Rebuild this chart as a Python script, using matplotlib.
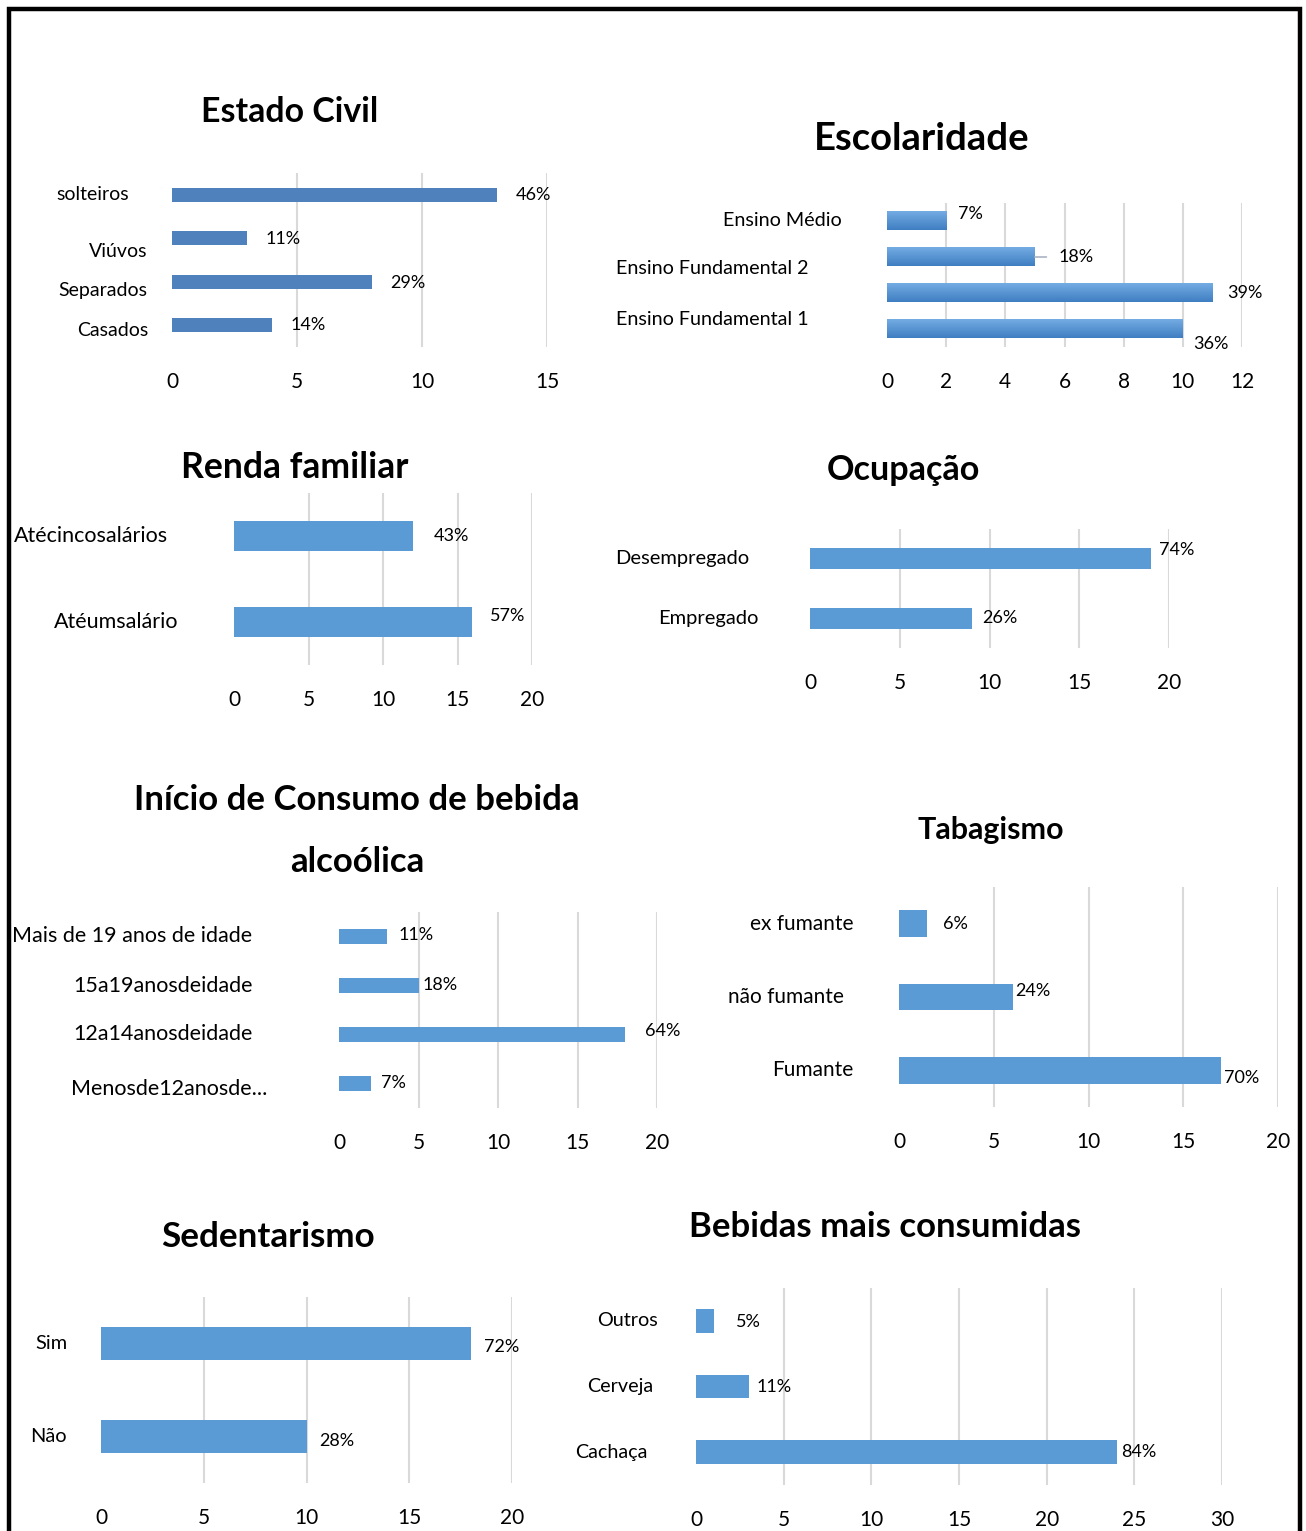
import matplotlib.pyplot as plt
import numpy as np
from matplotlib.patches import Rectangle
from matplotlib.colors import LinearSegmentedColormap
from matplotlib.transforms import offset_copy

plt.rcParams['font.family'] = ['Lato', 'DejaVu Sans']

W, H = 1306, 1531
PX = 72 / 100          # points per pixel at dpi 100

# ======================== DATA (top bar first) ========================
civil_cats = ['solteiros', 'Viúvos', 'Separados', 'Casados']
civil_vals = [13, 3, 8, 4]
civil_pct = ['46%', '11%', '29%', '14%']

escol_cats = ['Ensino Médio', 'Ensino Fundamental 2', 'Ensino Fundamental 1']
escol_vals = [2, 5, 11, 10]
escol_pct = ['7%', '18%', '39%', '36%']

renda_cats = ['Atécincosalários', 'Atéumsalário']
renda_vals = [12, 16]
renda_pct = ['43%', '57%']

ocup_cats = ['Desempregado', 'Empregado']
ocup_vals = [19, 9]
ocup_pct = ['74%', '26%']

inicio_cats = ['Mais de 19 anos de idade', '15a19anosdeidade', '12a14anosdeidade', 'Menosde12anosde...']
inicio_vals = [3, 5, 18, 2]
inicio_pct = ['11%', '18%', '64%', '7%']

tabag_cats = ['ex fumante', 'não fumante', 'Fumante']
tabag_vals = [1.5, 6, 17]
tabag_pct = ['6%', '24%', '70%']

sedent_cats = ['Sim', 'Não']
sedent_vals = [18, 10]
sedent_pct = ['72%', '28%']

bebidas_cats = ['Outros', 'Cerveja', 'Cachaça']
bebidas_vals = [1, 3, 24]
bebidas_pct = ['5%', '11%', '84%']

BLUE = '#5b9bd5'
GRID = '#d9d9d9'
VAL_SIZE = 13
TICK_SIZE = 15

fig = plt.figure(figsize=(W / 100, H / 100), dpi=100)


def panel(box, cats, vals, pct, xmax, xstep, color, bar_h, cat_size,
          cat_pads, offsets, cat_pos=None):
    x0, y0, x1, y1 = box
    ax = fig.add_axes([x0 / W, 1 - y1 / H, (x1 - x0) / W, (y1 - y0) / H])
    y = np.arange(len(vals))
    bars = ax.barh(y, vals, height=bar_h, color=color, zorder=2)
    ax.set_xlim(0, xmax)
    ax.set_ylim(len(vals) - 0.5, -0.5)
    ax.set_xticks(np.arange(0, xmax + 0.1, xstep))
    ax.set_yticks([])
    ax.grid(axis='x', color=GRID, lw=1.5, zorder=0)
    ax.set_axisbelow(True)
    ax.get_xgridlines()[0].set_visible(False)   # no line at zero
    for s in ax.spines.values():
        s.set_visible(False)
    ax.tick_params(axis='x', length=0, labelsize=TICK_SIZE, pad=18)

    # category labels, right aligned left of the plot area
    if cat_pos is None:
        cat_pos = y
    if np.isscalar(cat_pads):
        cat_pads = [cat_pads] * len(cats)
    for c, p, pad in zip(cats, cat_pos, cat_pads):
        tr = offset_copy(ax.get_yaxis_transform(), fig=fig, x=-pad, units='dots')
        ax.text(0, p, c, transform=tr, ha='right', va='center', fontsize=cat_size)

    texts = []
    for yi, v, t, (dx, dy) in zip(y, vals, pct, offsets):
        texts.append(ax.annotate(t, xy=(v, yi), xytext=(dx * PX, -dy * PX),
                                 textcoords='offset points', ha='left',
                                 va='center', fontsize=VAL_SIZE,
                                 annotation_clip=False))
    return ax, bars, texts


def title(x, y_base, s, size):
    fig.text(x / W, 1 - y_base / H, s, ha='center', va='baseline',
             fontsize=size, fontweight='bold')


# ---- Estado Civil
panel((172, 173, 547, 347), civil_cats, civil_vals, civil_pct, 15, 5, '#4f81bd',
      0.32, 14, [43, 25, 25, 24], [(19, 0), (19, 1), (18, 1), (19, 0)],
      cat_pos=[0, 1.31, 2.19, 3.11])
title(290, 122, 'Estado Civil', 24.4)

# ---- Escolaridade (gradient bars)
ax, bars, texts = panel((887, 203, 1242, 347), escol_cats, escol_vals, escol_pct,
                        12, 2, '#5b9bd5', 0.52, 14.2, [45, 78, 78],
                        [(12, -7), (24, 0), (15, 0), (10, 15)],
                        cat_pos=[0, 1.31, 2.74])
cmap = LinearSegmentedColormap.from_list('g', ['#74ace3', '#3f7ec2'])
grad = np.linspace(0, 1, 64).reshape(-1, 1)
for b in bars:
    bx, by, bw, bh = b.get_x(), b.get_y(), b.get_width(), b.get_height()
    ax.imshow(grad, extent=[bx, bx + bw, by + bh, by], aspect='auto',
              cmap=cmap, zorder=3)
    b.set_visible(False)
ax.set_xlim(0, 12)
ax.set_ylim(3.5, -0.5)
texts[3].set_clip_on(True)
texts[1].remove()
ax.annotate(escol_pct[1], xy=(escol_vals[1], 1), xytext=(24 * PX, 0),
            textcoords='offset points', ha='left', va='center', fontsize=VAL_SIZE,
            arrowprops=dict(arrowstyle='-', color='#aab4c4', lw=1.2,
                            shrinkA=7, shrinkB=0, relpos=(0, 0.5)))
title(922, 150, 'Escolaridade', 27.5)

# ---- Renda familiar
panel((234, 493, 532, 665), renda_cats, renda_vals, renda_pct, 20, 5, BLUE,
      0.36, 15.5, [66, 56], [(21, 0), (18, -6)])
title(295, 478, 'Renda familiar', 25.6)

# ---- Ocupação
panel((810, 529, 1169, 648), ocup_cats, ocup_vals, ocup_pct, 20, 5, BLUE,
      0.36, 14.5, [61, 52], [(8, -9), (11, 0)])
title(903, 480, 'Ocupação', 24.6)

# ---- Início de Consumo
panel((339, 912, 657, 1108), inicio_cats, inicio_vals, inicio_pct, 20, 5, BLUE,
      0.31, 15.5, [87, 86, 86, 72], [(12, -2), (4, -1), (20, -3), (10, 0)],
      cat_pos=[0, 1, 2, 3.12])
title(357, 810, 'Início de Consumo de bebida', 25)
title(357, 872, 'alcoólica', 25)

# ---- Tabagismo
panel((899, 887, 1278, 1107), tabag_cats, tabag_vals, tabag_pct, 20, 5, BLUE,
      0.36, 15, [46, 55, 46], [(16, 0), (3, -6), (3, 8)])
title(991, 839, 'Tabagismo', 21.9)

# ---- Sedentarismo
panel((101, 1297, 512, 1483), sedent_cats, sedent_vals, sedent_pct, 20, 5, BLUE,
      0.36, 14.4, 34, [(13, 4), (13, 4)])
title(268, 1247, 'Sedentarismo', 25.2)

# ---- Bebidas mais consumidas
panel((696, 1288, 1222, 1485), bebidas_cats, bebidas_vals, bebidas_pct, 30, 5, BLUE,
      0.36, 14.2, [38, 43, 48], [(22, 1), (8, 1), (4, 0)])
title(885, 1237, 'Bebidas mais consumidas', 25)

# outer frame
fig.add_artist(Rectangle((9 / W, -0.02), 1291 / W, 1.02 - 9 / H,
                         transform=fig.transFigure, fill=False,
                         ec='black', lw=3.2))

fig.savefig('out.png', dpi=100)
